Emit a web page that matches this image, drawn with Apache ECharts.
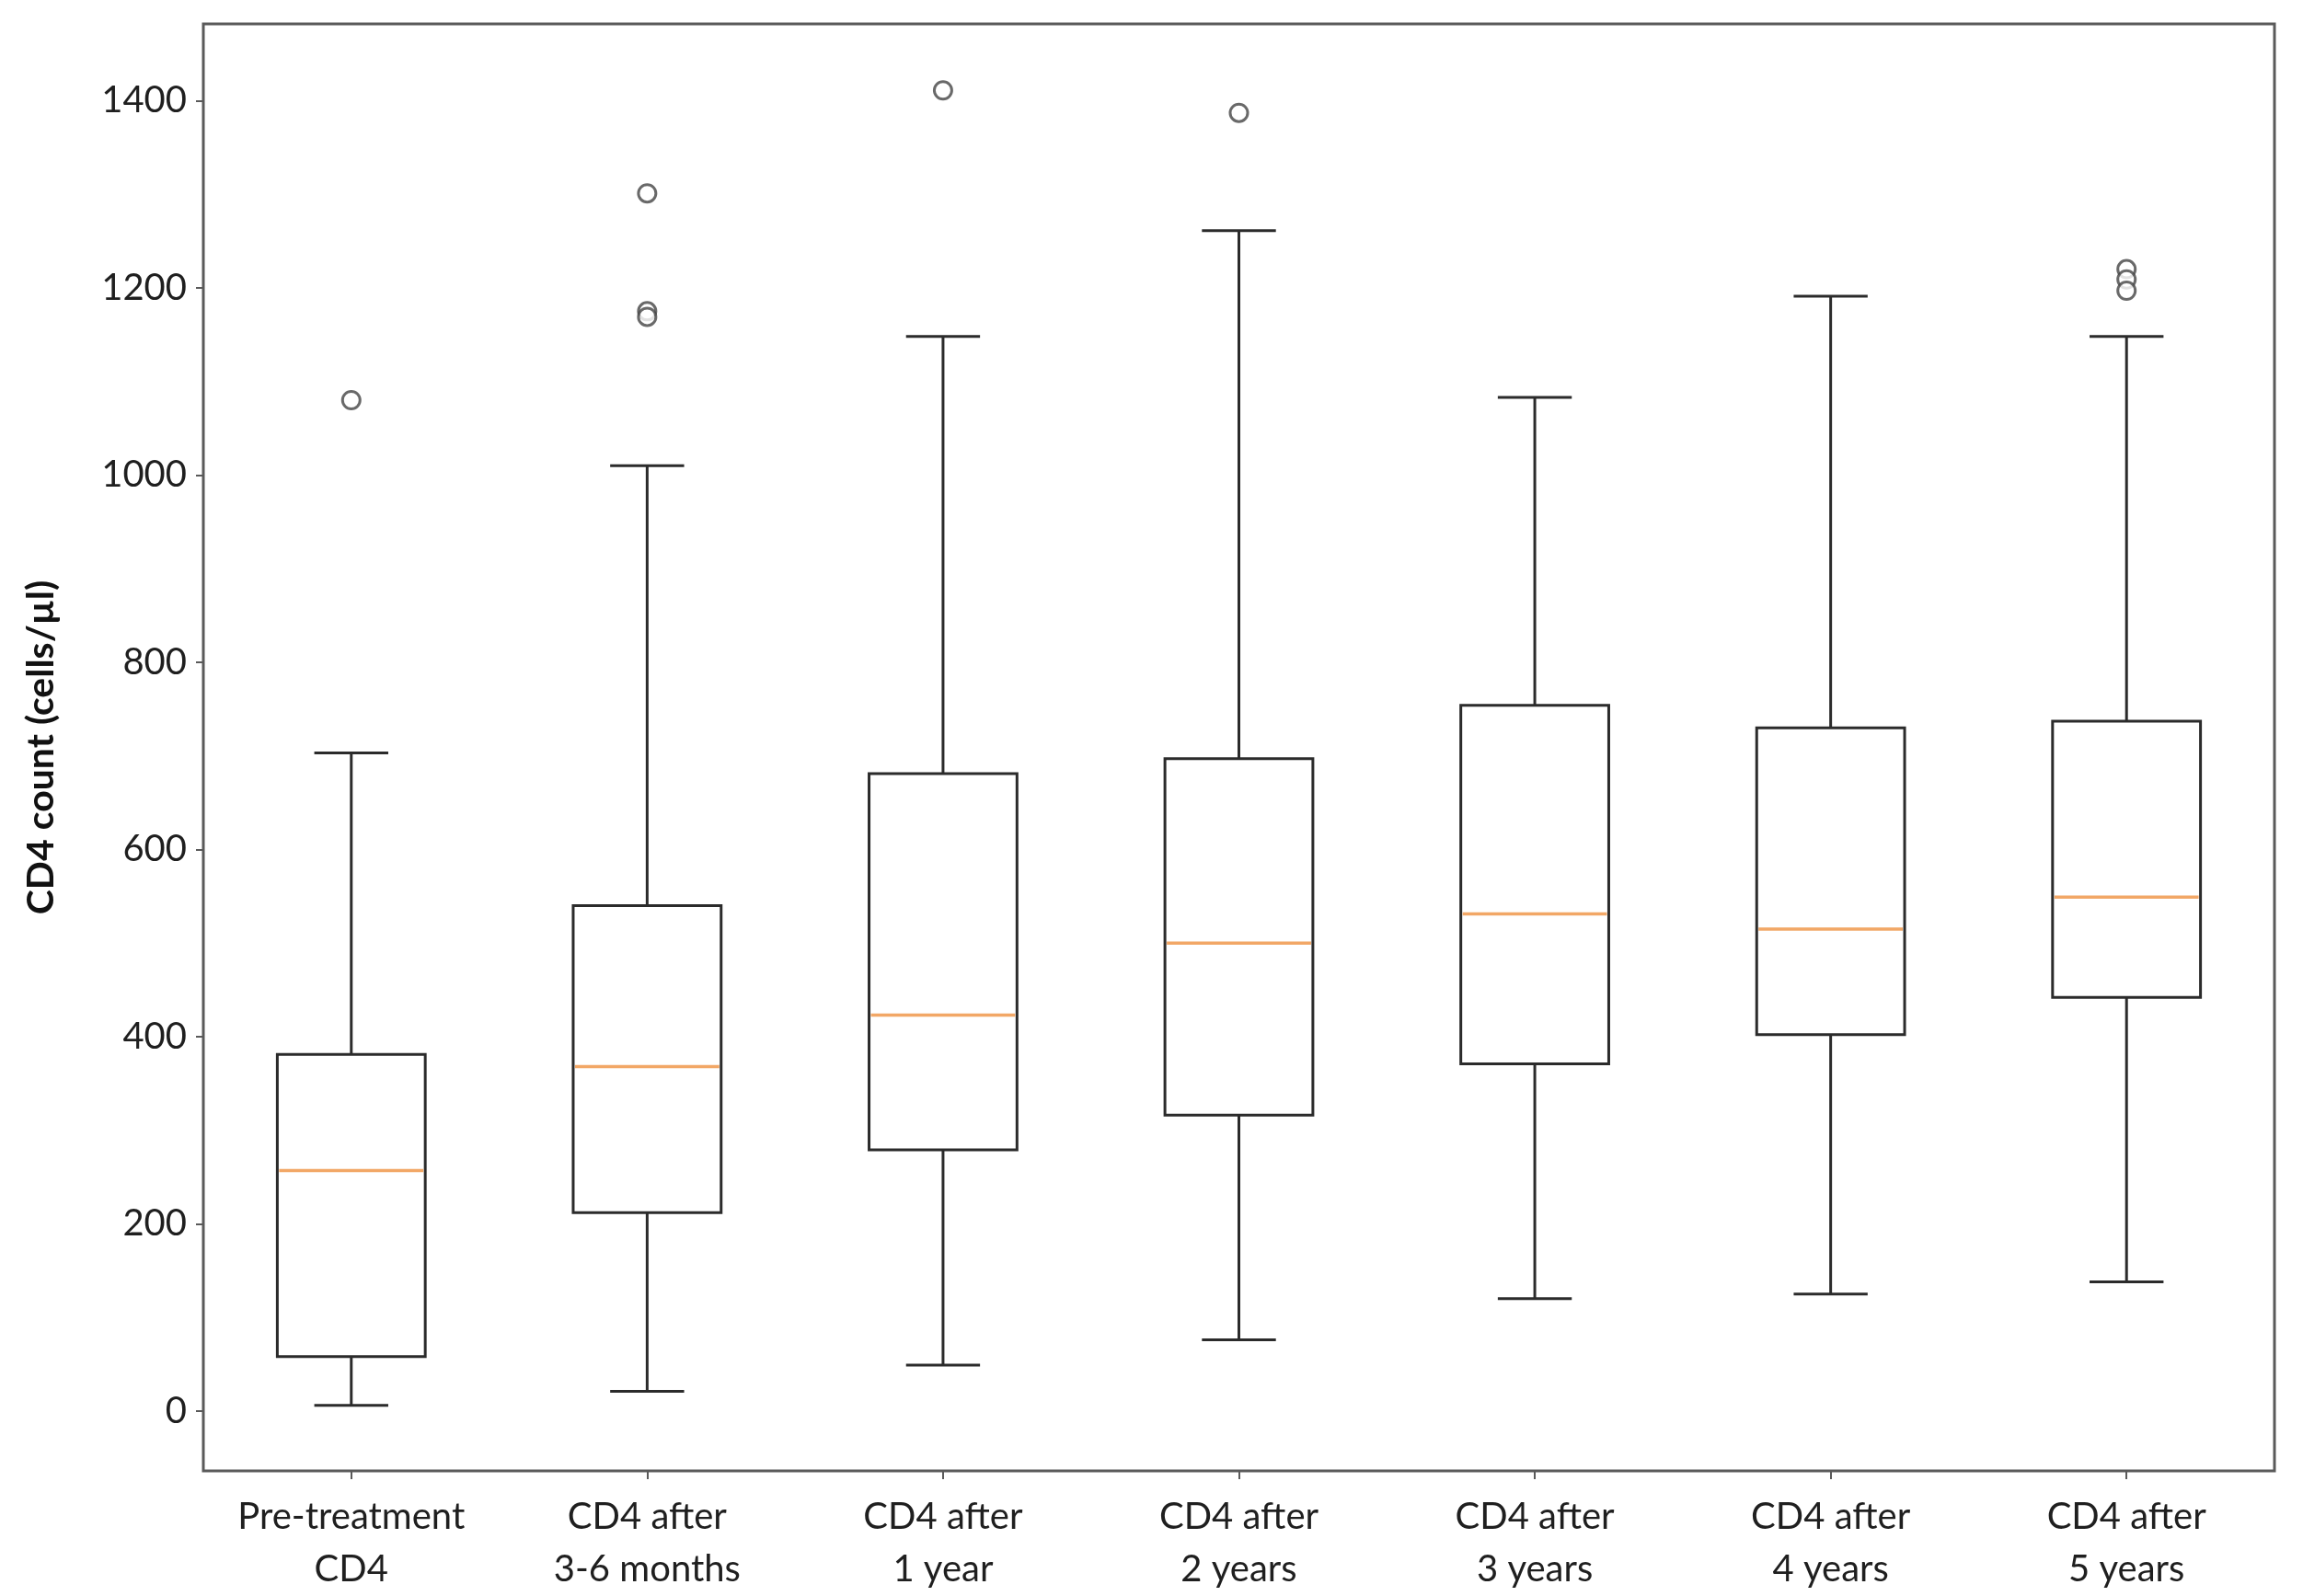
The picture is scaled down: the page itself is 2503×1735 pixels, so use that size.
<!DOCTYPE html>
<html>
<head>
<meta charset="utf-8">
<title>CD4 count boxplot</title>
<script src="https://cdn.jsdelivr.net/npm/echarts@6/dist/echarts.min.js"></script>
<style>
  html, body { margin: 0; padding: 0; background: #fff; }
  #chart { width: 100vw; height: 100vh; }
</style>
</head>
<body>
<div id="chart"></div>
<script>
// box statistics (cells/µl)
const categories = [
  'Pre-treatment\nCD4', 'CD4 after\n3-6 months', 'CD4 after\n1 year',
  'CD4 after\n2 years', 'CD4 after\n3 years', 'CD4 after\n4 years', 'CD4 after\n5 years'
];
const whiskerLow  = [6, 21, 49, 76, 120, 125, 138];
const q1          = [58, 212, 279, 316, 371, 402, 442];
const median      = [257, 368, 423, 500, 531, 515, 549];
const q3          = [381, 540, 681, 697, 754, 730, 737];
const whiskerHigh = [703, 1010, 1148, 1261, 1083, 1191, 1148];
// outliers: [category index, value]
const outliers = [
  [0, 1080],
  [1, 1301], [1, 1175], [1, 1169],
  [2, 1411],
  [3, 1387],
  [6, 1220], [6, 1209], [6, 1197]
];
const yTicks = [0, 200, 400, 600, 800, 1000, 1200, 1400];

(function() {
  const LINE = '#2b2b2b';
  const FONT = 'Lato';

  const boxData = categories.map((c, i) =>
    [i, whiskerLow[i], q1[i], median[i], q3[i], whiskerHigh[i]]);

  function renderBox(params, api) {
    const i = api.value(0);
    const band = api.size([1, 0])[0];
    const half = band * 0.25;
    const capHalf = band * 0.125;
    const pLow = api.coord([i, api.value(1)]);
    const pQ1 = api.coord([i, api.value(2)]);
    const pMed = api.coord([i, api.value(3)]);
    const pQ3 = api.coord([i, api.value(4)]);
    const pHigh = api.coord([i, api.value(5)]);
    const cx = pQ1[0];
    const line = { stroke: LINE, lineWidth: 3 };
    return {
      type: 'group',
      children: [
        { type: 'line', shape: { x1: cx, y1: pQ3[1], x2: cx, y2: pHigh[1] }, style: line },
        { type: 'line', shape: { x1: cx, y1: pQ1[1], x2: cx, y2: pLow[1] }, style: line },
        { type: 'line', shape: { x1: cx - capHalf, y1: pHigh[1], x2: cx + capHalf, y2: pHigh[1] }, style: line },
        { type: 'line', shape: { x1: cx - capHalf, y1: pLow[1], x2: cx + capHalf, y2: pLow[1] }, style: line },
        { type: 'rect', shape: { x: cx - half, y: pQ3[1], width: half * 2, height: pQ1[1] - pQ3[1] },
          style: { fill: null, stroke: LINE, lineWidth: 3 } },
        { type: 'line', shape: { x1: cx - half + 2, y1: pMed[1], x2: cx + half - 2, y2: pMed[1] },
          style: { stroke: '#f2a766', lineWidth: 3.5 } }
      ]
    };
  }

  const chart = echarts.init(document.getElementById('chart'));
  chart.setOption({
    backgroundColor: '#fff',
    animation: false,
    grid: {
      left: 221, right: 31, top: 26, bottom: 135,
      show: true, borderColor: '#5a5a5a', borderWidth: 3, backgroundColor: '#fff'
    },
    xAxis: {
      type: 'category',
      data: categories,
      boundaryGap: true,
      axisLine: { show: false, onZero: false },
      axisTick: { show: true, alignWithLabel: true, length: 9, lineStyle: { color: '#5a5a5a', width: 2 } },
      axisLabel: {
        color: '#1f1f1f', fontFamily: FONT, fontSize: 40, lineHeight: 57, margin: 22, interval: 0
      },
      splitLine: { show: false }
    },
    yAxis: {
      type: 'value',
      min: -64,
      max: 1482,
      name: 'CD4 count (cells/µl)',
      nameLocation: 'middle',
      nameRotate: 90,
      nameGap: 156,
      nameTextStyle: { color: '#111', fontFamily: FONT, fontWeight: 'bold', fontSize: 41 },
      axisLine: { show: false },
      axisTick: { show: true, length: 8, customValues: yTicks, lineStyle: { color: '#5a5a5a', width: 2 } },
      axisLabel: {
        color: '#1f1f1f', fontFamily: FONT, fontSize: 40, margin: 18, customValues: yTicks,
        formatter: v => String(v)
      },
      splitLine: { show: false }
    },
    series: [
      {
        type: 'custom',
        renderItem: renderBox,
        data: boxData,
        encode: { x: 0, y: [1, 2, 3, 4, 5] },
        z: 2
      },
      {
        type: 'scatter',
        data: outliers,
        symbol: 'circle',
        symbolSize: 19,
        itemStyle: { color: '#fff', borderColor: '#444', borderWidth: 3 },
        z: 3
      }
    ]
  });

  window.addEventListener('resize', () => chart.resize());
})();
</script>
</body>
</html>
